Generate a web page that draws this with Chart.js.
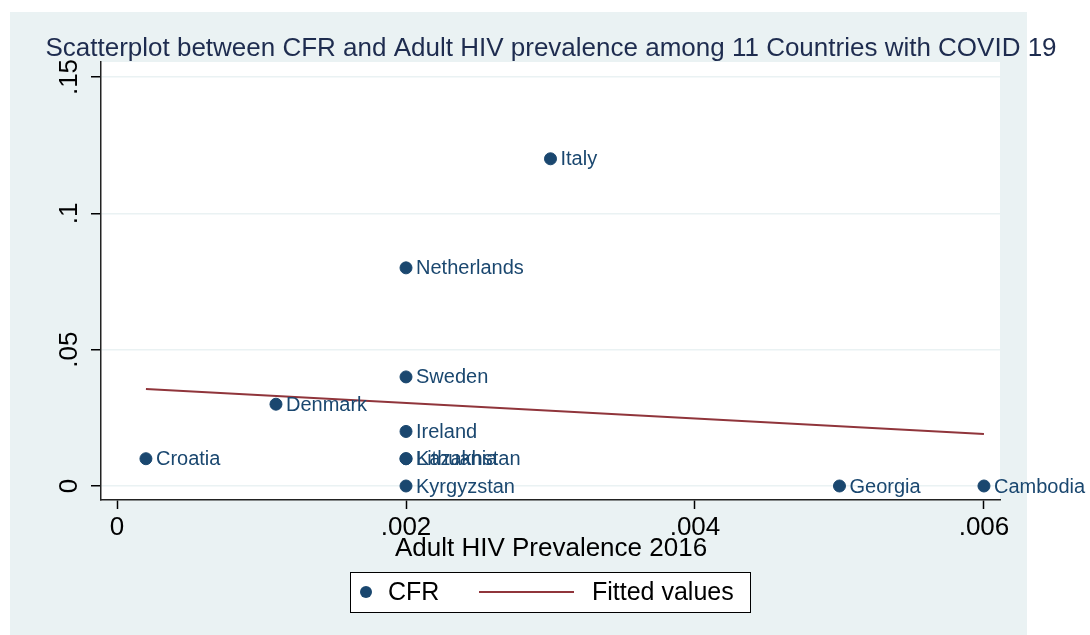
<!DOCTYPE html>
<html lang="en">
<head>
  <meta charset="UTF-8">
  <title>CFR vs Adult HIV prevalence</title>
  <script src="https://cdn.jsdelivr.net/npm/chart.js"></script>
  <style>
    body { margin: 0; background: #fff; }
    canvas { display: block; }
  </style>
</head>
<body>
<canvas id="scatter" width="1090" height="635"></canvas>
<script>
// data
const countries = ['Croatia', 'Denmark', 'Netherlands', 'Italy', 'Sweden', 'Ireland',
  'Kazakhstan', 'Lithuania', 'Kyrgyzstan', 'Georgia', 'Cambodia'];
const hivPrev = [0.0002, 0.0011, 0.002, 0.003, 0.002, 0.002, 0.002, 0.002, 0.002, 0.005, 0.006];
const cfr = [0.01, 0.03, 0.08, 0.12, 0.04, 0.02, 0.01, 0.01, 0, 0, 0];
const fitX = [0.0002, 0.006];
const fitY = [0.0356, 0.0191];
const xTicks = [0, 0.002, 0.004, 0.006];
const xTickLabels = ['0', '.002', '.004', '.006'];
const yTicks = [0, 0.05, 0.1, 0.15];
const yTickLabels = ['0', '.05', '.1', '.15'];

const FONT = '"Liberation Sans", Arial, sans-serif';
const NAVY = '#1a476f';
const MAROON = '#90353b';
const BG = '#eaf2f3';

const decorPlugin = {
  id: 'decor',
  beforeDraw(chart) {
    const {ctx, chartArea: a} = chart;
    ctx.save();
    ctx.fillStyle = '#fff';
    ctx.fillRect(0, 0, chart.width, chart.height);
    ctx.fillStyle = BG;
    ctx.fillRect(10, 12, 1017, 623);
    ctx.fillStyle = '#fff';
    ctx.fillRect(a.left, a.top, a.right - a.left, a.bottom - a.top);
    ctx.restore();
  },
  afterDraw(chart) {
    const {ctx} = chart;
    const ys = chart.scales.y;
    ctx.save();
    // title
    ctx.fillStyle = '#1e2c4f';
    ctx.font = '26px ' + FONT;
    ctx.textAlign = 'center';
    ctx.textBaseline = 'alphabetic';
    ctx.fillText('Scatterplot between CFR and Adult HIV prevalence among 11 Countries with COVID 19', 551, 56);

    // rotated y tick labels
    ctx.fillStyle = '#000';
    ctx.font = '26px ' + FONT;
    yTicks.forEach((v, i) => {
      const py = ys.getPixelForValue(v);
      ctx.save();
      ctx.translate(77, py);
      ctx.rotate(-Math.PI / 2);
      ctx.textAlign = 'center';
      ctx.fillText(yTickLabels[i], 0, 0);
      ctx.restore();
    });

    // x axis title
    ctx.textAlign = 'center';
    ctx.fillText('Adult HIV Prevalence 2016', 551, 556);

    // point labels
    const meta = chart.getDatasetMeta(0);
    ctx.fillStyle = NAVY;
    ctx.font = '20px ' + FONT;
    ctx.textAlign = 'left';
    ctx.textBaseline = 'middle';
    meta.data.forEach((pt, i) => {
      ctx.fillText(countries[i], pt.x + 10, pt.y + 1);
    });

    // legend box
    ctx.fillStyle = '#fff';
    ctx.fillRect(350, 572, 400, 40);
    ctx.strokeStyle = '#000';
    ctx.lineWidth = 1;
    ctx.strokeRect(350.5, 572.5, 400, 40);
    ctx.fillStyle = NAVY;
    ctx.beginPath();
    ctx.arc(366, 592, 6, 0, Math.PI * 2);
    ctx.fill();
    ctx.fillStyle = '#000';
    ctx.font = '25px ' + FONT;
    ctx.fillText(chart.data.datasets[0].label, 388, 593);
    ctx.strokeStyle = MAROON;
    ctx.lineWidth = 2;
    ctx.beginPath();
    ctx.moveTo(479, 592);
    ctx.lineTo(574, 592);
    ctx.stroke();
    ctx.fillText(chart.data.datasets[1].label, 592, 593);
    ctx.restore();
  }
};

new Chart(document.getElementById('scatter').getContext('2d'), {
  type: 'scatter',
  data: {
    datasets: [{
      label: 'CFR',
      data: hivPrev.map((x, i) => ({x: x, y: cfr[i]})),
      backgroundColor: NAVY,
      borderColor: NAVY,
      pointRadius: 6,
      pointHoverRadius: 6,
      order: 1
    }, {
      label: 'Fitted values',
      data: fitX.map((x, i) => ({x: x, y: fitY[i]})),
      showLine: true,
      borderColor: MAROON,
      borderWidth: 2,
      pointRadius: 0,
      fill: false,
      order: 2
    }]
  },
  options: {
    responsive: false,
    animation: false,
    events: [],
    layout: { padding: { top: 62, right: 90, left: 0, bottom: 0 } },
    plugins: { legend: { display: false }, title: { display: false }, tooltip: { enabled: false } },
    scales: {
      x: {
        type: 'linear',
        min: -0.000111,
        max: 0.006111,
        afterBuildTicks: s => { s.ticks = xTicks.map(v => ({value: v})); },
        afterFit: s => { s.height = 135; },
        ticks: {
          callback: v => xTickLabels[xTicks.indexOf(v)],
          color: '#000',
          font: { family: FONT, size: 26 },
          padding: 3,
          maxRotation: 0,
          autoSkip: false
        },
        grid: { drawOnChartArea: false, drawTicks: true, tickLength: 9, tickColor: '#000', tickWidth: 1.5 },
        border: { color: '#222', width: 1.5 }
      },
      y: {
        type: 'linear',
        min: -0.00514,
        max: 0.1555,
        afterBuildTicks: s => { s.ticks = yTicks.map(v => ({value: v})); },
        afterFit: s => { s.width = 101; },
        ticks: { color: 'rgba(0,0,0,0)', font: { family: FONT, size: 26 } },
        grid: { color: BG, lineWidth: 1.5, tickLength: 10, tickColor: '#000', tickWidth: 1.5 },
        border: { color: '#222', width: 1.5 }
      }
    }
  },
  plugins: [decorPlugin]
});
</script>
</body>
</html>
